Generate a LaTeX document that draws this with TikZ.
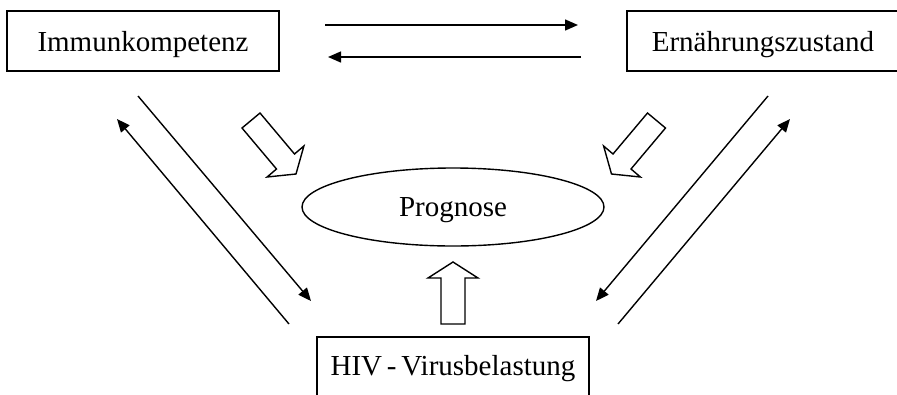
\documentclass[tikz,border=0pt]{standalone}
\usepackage{fontspec}
\setmainfont{Liberation Serif}
\usetikzlibrary{arrows.meta,shapes.geometric}
\tikzset{
  every node/.style={font=\fontsize{29}{34}\selectfont},
  labelbox/.style={draw, line width=1.4pt, rectangle, inner sep=0pt, minimum width=272pt, minimum height=60pt, text height=27pt, text depth=7pt},
  progell/.style={draw, line width=1.4pt, ellipse, inner sep=0pt, minimum width=302pt, minimum height=78pt, text height=25pt, text depth=7pt},
  conn/.style={line width=1.4pt, -{Triangle[length=13pt,width=11pt]}},
  hollow/.style={draw, line width=1.4pt, fill=white, line join=miter}
}
\begin{document}
\begin{tikzpicture}[x=1pt,y=-1pt]
\useasboundingbox (0,0) rectangle (897,394);
\clip (0,0) rectangle (897,394);
% boxes
\node[labelbox] (imm) at (143,41) {Immunkompetenz};
\node[labelbox] (ern) at (763,41) {Ernährungszustand};
\node[labelbox, text height=24pt, text depth=8pt] (hiv) at (453,367) {HIV\,-\,Virusbelastung};
\node[progell] (prog) at (453,207) {Prognose};
% connector end points
\coordinate (t1a) at (325,25);  \coordinate (t1b) at (578,25);
\coordinate (t2a) at (581,57);  \coordinate (t2b) at (328,57);
\coordinate (l1a) at (138,96);  \coordinate (l1b) at (311,301);
\coordinate (l2a) at (289,324); \coordinate (l2b) at (117,119);
\coordinate (r1a) at (768,96);  \coordinate (r1b) at (596,301);
\coordinate (r2a) at (618,324); \coordinate (r2b) at (790,119);
\draw[conn] (t1a) -- (t1b);
\draw[conn] (t2a) -- (t2b);
\draw[conn] (l1a) -- (l1b);
\draw[conn] (l2a) -- (l2b);
\draw[conn] (r1a) -- (r1b);
\draw[conn] (r2a) -- (r2b);
% hollow block arrows
\draw[hollow] (242,128) -- (260,113) -- (294.5,154) -- (303.9,146) -- (296,174) -- (267.1,177) -- (276.5,169) -- cycle;
\draw[hollow] (665.5,128) -- (647.5,113) -- (613,154) -- (603.6,146) -- (611.5,174) -- (640.4,177) -- (631,169) -- cycle;
\draw[hollow] (441,324) -- (441,278) -- (428,278) -- (453,262) -- (478,278) -- (465,278) -- (465,324) -- cycle;
\end{tikzpicture}
\end{document}
